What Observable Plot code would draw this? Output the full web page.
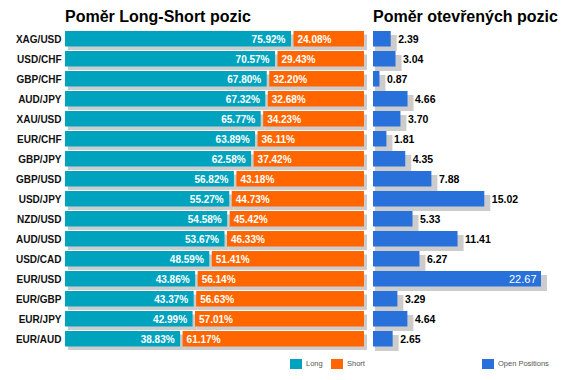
<!DOCTYPE html>
<html>
<head>
<meta charset="utf-8">
<script src="https://cdn.jsdelivr.net/npm/d3@7"></script>
<script src="https://cdn.jsdelivr.net/npm/@observablehq/plot@0.6"></script>
<style>
  html, body { margin: 0; padding: 0; background: #fff; }
  #wrap { position: relative; width: 570px; height: 380px; font-family: "Liberation Sans", Arial, sans-serif; overflow: hidden; }
  #wrap svg { position: absolute; left: 0; top: 0; }
  .title { position: absolute; font-weight: bold; font-size: 16px; color: #000; white-space: nowrap; line-height: 1; }
  .leg { position: absolute; font-size: 7.5px; color: #555; white-space: nowrap; line-height: 1; }
  .sw { position: absolute; width: 12px; height: 9.5px; }
</style>
</head>
<body>
<div id="wrap"></div>
<script>
const pairs = ["XAG/USD","USD/CHF","GBP/CHF","AUD/JPY","XAU/USD","EUR/CHF","GBP/JPY","GBP/USD","USD/JPY","NZD/USD","AUD/USD","USD/CAD","EUR/USD","EUR/GBP","EUR/JPY","EUR/AUD"];
const longPct = [75.92,70.57,67.80,67.32,65.77,63.89,62.58,56.82,55.27,54.58,53.67,48.59,43.86,43.37,42.99,38.83];
const shortPct = [24.08,29.43,32.20,32.68,34.23,36.11,37.42,43.18,44.73,45.42,46.33,51.41,56.14,56.63,57.01,61.17];
const openPos = [2.39,3.04,0.87,4.66,3.70,1.81,4.35,7.88,15.02,5.33,11.41,6.27,22.67,3.29,4.64,2.65];

const titleLeft = "Poměr Long-Short pozic";
const titleRight = "Poměr otevřených pozic";
const legendLeft = ["Long", "Short"];
const legendRight = ["Open Positions"];

const TEAL = "#00A3BD", ORANGE = "#FF6600", BLUE = "#2870DA", SHADOW = "#CCCCCC";

const rows = pairs.map((p, i) => ({pair: p, long: longPct[i], short: shortPct[i], open: openPos[i]}));
const maxOpen = d3.max(openPos);
const font = '"Liberation Sans", Arial, sans-serif';

const wrap = document.getElementById("wrap");

const left = Plot.plot({
  width: 570, height: 380,
  marginLeft: 65, marginRight: 206, marginTop: 30, marginBottom: 30,
  style: {fontFamily: font, background: "transparent"},
  x: {domain: [0, 100], axis: null},
  y: {domain: pairs, padding: 0, label: null},
  marks: [
    Plot.barX(rows, {x1: 0, x2: "long", y: "pair", fill: SHADOW, dx: 3, dy: 3.5, insetTop: 1, insetBottom: 3.5}),
    Plot.barX(rows, {x1: "long", x2: 100, y: "pair", fill: SHADOW, dx: 3, dy: 3.5, insetTop: 1, insetBottom: 3.5}),
    Plot.barX(rows, {x1: 0, x2: "long", y: "pair", fill: TEAL, insetTop: 1, insetBottom: 3.5, insetRight: 1}),
    Plot.barX(rows, {x1: "long", x2: 100, y: "pair", fill: ORANGE, insetTop: 1, insetBottom: 3.5, insetLeft: 1.5}),
    Plot.text(rows, {x: "long", y: "pair", text: d => d.long.toFixed(2) + "%", textAnchor: "end", dx: -7, dy: -1.2, fill: "white", fontSize: 10, fontWeight: "bold"}),
    Plot.text(rows, {x: "long", y: "pair", text: d => d.short.toFixed(2) + "%", textAnchor: "start", dx: 5, dy: -1.2, fill: "white", fontSize: 10, fontWeight: "bold"}),
    Plot.axisY({tickSize: 0, tickPadding: 4, fontSize: 10, fontWeight: "bold", fill: "#111", dy: -1.2, label: null})
  ]
});
wrap.appendChild(left);

const inside = d => d.open > maxOpen * 0.85;
const right = Plot.plot({
  width: 570, height: 380,
  marginLeft: 373, marginRight: 29, marginTop: 30, marginBottom: 30,
  style: {fontFamily: font, background: "transparent"},
  x: {domain: [0, maxOpen], axis: null},
  y: {domain: pairs, padding: 0, axis: null},
  marks: [
    Plot.barX(rows, {x1: 0, x2: "open", y: "pair", fill: SHADOW, dx: 4, dy: 4, insetTop: 1, insetBottom: 3, insetLeft: -2, insetRight: -2}),
    Plot.barX(rows, {x1: 0, x2: "open", y: "pair", fill: BLUE, insetTop: 1, insetBottom: 3.5}),
    Plot.text(rows.filter(d => !inside(d)), {x: "open", y: "pair", text: d => d.open.toFixed(2), textAnchor: "start", dx: 7, dy: -1.2, fill: "#000", fontSize: 10.5, fontWeight: "bold"}),
    Plot.text(rows.filter(inside), {x: "open", y: "pair", text: d => d.open.toFixed(2), textAnchor: "end", dx: -5, dy: -1.2, fill: "white", fontSize: 11})
  ]
});
wrap.appendChild(right);

function addTitle(text, x) {
  const t = document.createElement("div");
  t.className = "title";
  t.textContent = text;
  t.style.left = x + "px";
  t.style.top = "9px";
  wrap.appendChild(t);
}
addTitle(titleLeft, 65);
addTitle(titleRight, 373);

function addLegend(label, color, x, textX) {
  const s = document.createElement("div");
  s.className = "sw";
  s.style.left = x + "px";
  s.style.top = "359px";
  s.style.background = color;
  wrap.appendChild(s);
  const t = document.createElement("div");
  t.className = "leg";
  t.textContent = label;
  t.style.left = textX + "px";
  t.style.top = "360px";
  wrap.appendChild(t);
}
addLegend(legendLeft[0], TEAL, 290, 306);
addLegend(legendLeft[1], ORANGE, 331, 347);
addLegend(legendRight[0], BLUE, 482, 498);
</script>
</body>
</html>
